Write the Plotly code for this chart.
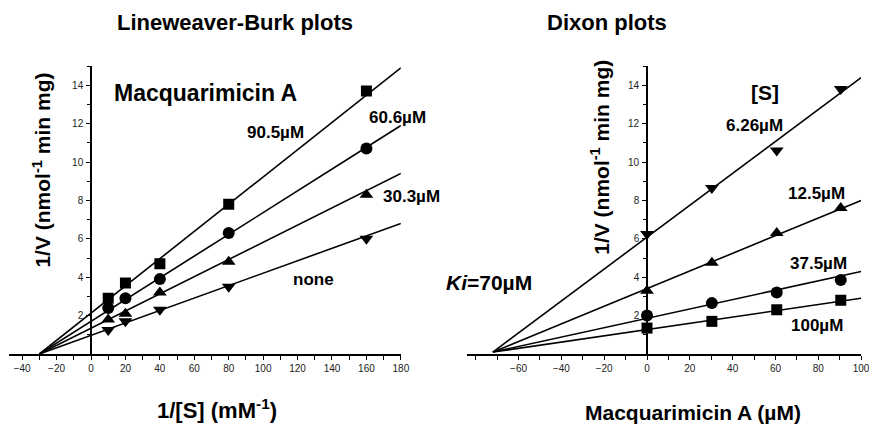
import plotly.graph_objects as go

# ---------------- data ----------------
# Lineweaver-Burk (left)
lb_x = [10, 20, 40, 80, 160]                      # 1/[S] (mM^-1)
lb_labels = ["90.5µM", "60.6µM", "30.3µM", "none"]
lb_y_905 = [2.9, 3.7, 4.7, 7.8, 13.7]
lb_y_606 = [2.4, 2.9, 3.9, 6.3, 10.7]
lb_y_303 = [1.8, 2.1, 3.2, 4.8, 8.3]
lb_y_none = [1.25, 1.7, 2.3, 3.5, 6.0]
lb_fit_x = [-30, 180]
lb_fit_905 = [0, 14.9]
lb_fit_606 = [0, 11.9]
lb_fit_303 = [0, 9.4]
lb_fit_none = [0, 6.8]

# Dixon (right)
dx_x = [0, 30.3, 60.6, 90.5]                      # Macquarimicin A (µM)
dx_labels = ["6.26µM", "12.5µM", "37.5µM", "100µM"]
dx_y_626 = [6.25, 8.65, 10.6, 13.8]
dx_y_125 = [3.3, 4.75, 6.3, 7.6]
dx_y_375 = [2.0, 2.65, 3.2, 3.85]
dx_y_100 = [1.35, 1.7, 2.3, 2.8]
dx_fit_x = [-72, 100]
dx_fit_626 = [0.1, 14.4]
dx_fit_125 = [0.1, 8.0]
dx_fit_375 = [0.1, 4.3]
dx_fit_100 = [0.1, 2.9]

lb_xticks = list(range(-40, 181, 20))
dx_xticks = list(range(-60, 101, 20))
yticks = [2, 4, 6, 8, 10, 12, 14]

W, H = 879, 427
FONT = "Liberation Sans, Arial, Helvetica, sans-serif"

fig = go.Figure()

def add_series(xs, ys, fx, fy, symbol, xa, ya, size=11):
    fig.add_trace(go.Scatter(x=fx, y=fy, mode="lines", xaxis=xa, yaxis=ya,
                             line=dict(color="black", width=1.6), showlegend=False,
                             hoverinfo="skip"))
    fig.add_trace(go.Scatter(x=xs, y=ys, mode="markers", xaxis=xa, yaxis=ya,
                             marker=dict(symbol=symbol, color="black", size=size,
                                         line=dict(width=0)),
                             showlegend=False))

add_series(lb_x, lb_y_905, lb_fit_x, lb_fit_905, "square", "x", "y", 11)
add_series(lb_x, lb_y_606, lb_fit_x, lb_fit_606, "circle", "x", "y", 12)
add_series(lb_x, lb_y_303, lb_fit_x, lb_fit_303, "triangle-up", "x", "y", 12)
add_series(lb_x, lb_y_none, lb_fit_x, lb_fit_none, "triangle-down", "x", "y", 12)

add_series(dx_x, dx_y_626, dx_fit_x, dx_fit_626, "triangle-down", "x2", "y2", 12)
add_series(dx_x, dx_y_125, dx_fit_x, dx_fit_125, "triangle-up", "x2", "y2", 12)
add_series(dx_x, dx_y_375, dx_fit_x, dx_fit_375, "circle", "x2", "y2", 12)
add_series(dx_x, dx_y_100, dx_fit_x, dx_fit_100, "square", "x2", "y2", 11)

# pixel helpers
def px(xp):
    return xp / W
def py(yp):
    return 1 - yp / H

lb_range = [-47.7, 180]
dx_range = [-84, 100]
lb_dom = [px(9), px(405)]
dx_dom = [px(472), px(870)]
ydom = [py(354), py(66)]

def zero_pos(rng, dom):
    return dom[0] + (0 - rng[0]) / (rng[1] - rng[0]) * (dom[1] - dom[0])

tickfont = dict(family=FONT, size=10, color="#222")

xcommon = dict(showgrid=False, zeroline=False, showline=True, linecolor="black",
               linewidth=1.6, ticks="outside", ticklen=4, tickwidth=1.2,
               tickcolor="black", tickfont=tickfont,
               minor=dict(dtick=10, ticks="outside", ticklen=4, tickwidth=1.2,
                          tickcolor="black"))
ycommon = dict(range=[0, 15], domain=ydom, showgrid=False, zeroline=False,
               showline=True, linecolor="black", linewidth=1.6,
               ticks="outside", ticklen=4, tickwidth=1.2, tickcolor="black",
               tickvals=yticks, tickfont=tickfont, ticklabelstandoff=1,
               minor=dict(dtick=1, ticks="outside", ticklen=3, tickwidth=1.2,
                          tickcolor="black"))

fig.update_layout(
    width=W, height=H, margin=dict(l=0, r=0, t=0, b=0),
    paper_bgcolor="white", plot_bgcolor="rgba(0,0,0,0)",
    xaxis=dict(range=lb_range, domain=lb_dom, anchor="y", tickvals=lb_xticks, **xcommon),
    yaxis=dict(anchor="free", position=zero_pos(lb_range, lb_dom), **ycommon),
    xaxis2=dict(range=dx_range, domain=dx_dom, anchor="y2", tickvals=dx_xticks, **xcommon),
    yaxis2=dict(anchor="free", position=zero_pos(dx_range, dx_dom), **ycommon),
    font=dict(family=FONT, color="black"),
)

def ann(text, x, y, size, angle=0, bold=True):
    t = f"<b>{text}</b>" if bold else text
    fig.add_annotation(text=t, x=px(x), y=py(y), xref="paper", yref="paper",
                       showarrow=False, textangle=angle, xanchor="center",
                       yanchor="middle", font=dict(family=FONT, size=size, color="black"))

# titles
ann("Lineweaver-Burk plots", 237, 22, 22)
ann("Dixon plots", 613, 22, 22)
# axis titles
ann("1/V (nmol<sup>-1</sup> min mg)", 42, 170, 21, angle=-90)
ann("1/V (nmol<sup>-1</sup> min mg)", 606, 157, 21, angle=-90)
ann("1/[S] (mM<sup>-1</sup>)", 219, 409, 22)
ann("Macquarimicin A (µM)", 700, 412, 21)
# panel labels
ann("Macquarimicin A", 208, 93, 23)
ann(lb_labels[0], 278, 132, 17)
ann(lb_labels[1], 402, 118, 17)
ann(lb_labels[2], 416, 196, 17)
ann(lb_labels[3], 317, 279, 17)
ann("[S]", 773, 92, 21)
ann(dx_labels[0], 762, 125, 17)
ann(dx_labels[1], 825, 193, 17)
ann(dx_labels[2], 827, 263, 17)
ann(dx_labels[3], 825, 325, 17)
ann("<i>Ki</i>=70µM", 494, 282, 21)

fig.write_html("out.html")
